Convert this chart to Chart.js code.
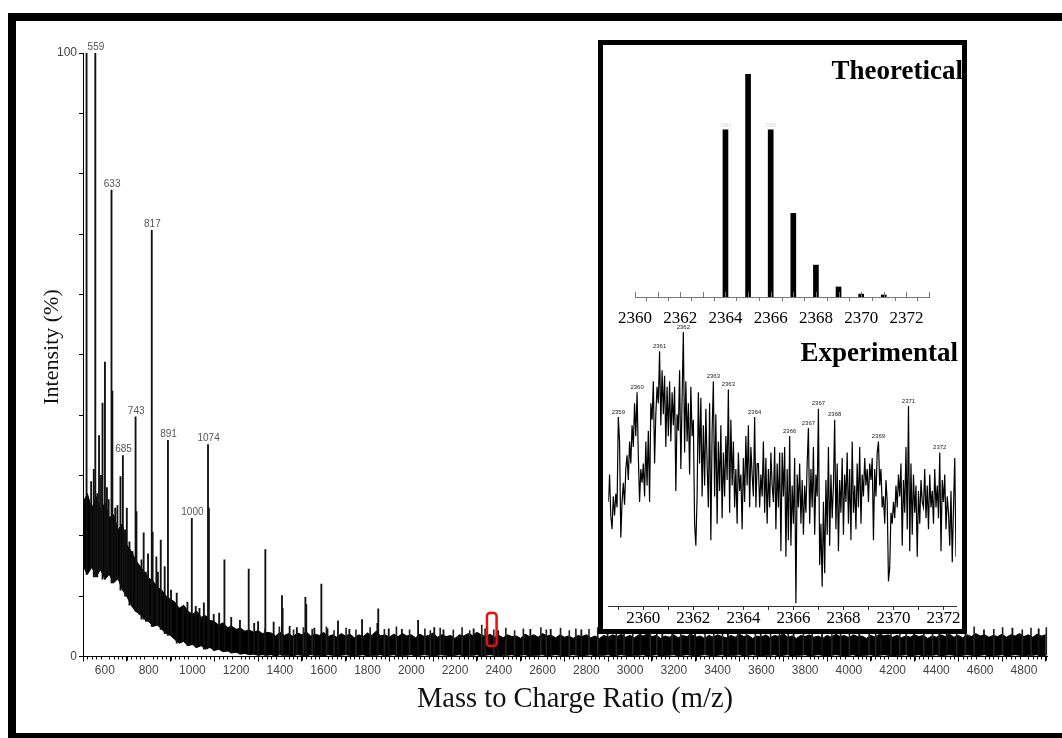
<!DOCTYPE html>
<html>
<head>
<meta charset="utf-8">
<script src="https://cdn.jsdelivr.net/npm/chart.js@4.4.0/dist/chart.umd.min.js"></script>
<style>
  html, body { margin: 0; padding: 0; background: #fff; }
  #page { position: relative; width: 1062px; height: 738px; overflow: hidden; background: #fff; }
  canvas { position: absolute; }
  #frame { position: absolute; left: 8px; top: 13px; width: 1090px; height: 712px; border: 8px solid #000; pointer-events: none; }
  #inset { position: absolute; left: 598px; top: 40px; width: 369px; height: 594px; box-sizing: border-box; border: 5px solid #000; background: #fff; }
</style>
</head>
<body>
<div id="page">
  <canvas id="main" width="1062" height="738" style="left:0;top:0;"></canvas>
  <div id="frame"></div>
  <div id="inset"></div>
  <canvas id="theo" width="359" height="290" style="left:603px;top:45px;"></canvas>
  <canvas id="expt" width="359" height="311" style="left:603px;top:318px;"></canvas>
</div>
<script>
// ---------- full-range spectrum ----------
// noise band envelope, one value per 20 m/z starting at 500 (percent intensity)
const noiseStart = 500;
const noiseStep = 20;
const noiseUpper = [
  25.5, 27.0, 24.5, 26.5, 24.0, 25.5, 23.0, 23.5, 21.0, 22.0,
  18.5, 17.5, 16.0, 15.0, 14.0, 13.0, 12.5, 11.5, 11.0, 10.0,
  9.5, 9.0, 8.0, 8.5, 7.5, 7.0, 7.5, 6.5, 6.8, 6.0,
  5.8, 5.2, 5.6, 4.8, 5.0, 4.5, 4.7, 4.2, 4.4, 4.0,
  4.3, 3.8, 4.0, 3.9, 3.4, 4.0, 3.5, 3.8, 3.3, 3.9,
  3.6, 4.1, 3.4, 3.7, 3.5, 4.0, 3.3, 3.6, 3.2, 3.8,
  3.4, 3.7, 3.1, 3.6, 3.3, 3.9, 3.5, 4.2, 3.4, 3.6,
  3.2, 3.7, 3.3, 3.8, 3.4, 3.6, 3.1, 3.7, 3.3, 3.5,
  3.9, 3.2, 3.6, 3.3, 3.5, 3.0, 3.6, 3.4, 3.8, 3.5,
  4.0, 3.6, 3.3, 3.7, 3.2, 3.5, 3.1, 3.6, 3.3, 3.4,
  3.0, 3.7, 3.3, 3.6, 3.2, 3.8, 3.4, 3.5, 3.1, 3.6,
  3.2, 3.4, 3.0, 3.5, 3.3, 3.6, 3.1, 3.4, 3.0, 3.5,
  3.2, 3.6, 3.3, 3.7, 3.2, 3.5, 3.1, 3.6, 3.4, 3.8,
  3.3, 3.5, 3.0, 3.4, 3.2, 3.6, 3.1, 3.5, 3.3, 3.7,
  3.2, 3.4, 3.0, 3.5, 3.2, 3.6, 3.3, 3.1, 3.5, 3.2,
  3.7, 3.3, 3.5, 3.0, 3.4, 3.2, 3.6, 3.1, 3.5, 3.3,
  3.8, 3.2, 3.4, 3.0, 3.5, 3.3, 3.6, 3.2, 3.4, 3.0,
  3.5, 3.2, 3.7, 3.3, 3.5, 3.1, 3.6, 3.3, 3.4, 3.0,
  3.5, 3.2, 3.7, 3.4, 3.6, 3.2, 3.5, 3.1, 3.4, 3.2,
  3.6, 3.3, 3.5, 3.0, 3.4, 3.2, 3.6, 3.3, 3.7, 3.2,
  3.5, 3.1, 3.6, 3.3, 3.8, 3.4, 3.6, 3.2, 3.5, 3.3,
  3.7, 3.2, 3.6, 3.4, 3.8, 3.3, 3.6, 3.2, 3.7, 3.4,
  3.6
];
const noiseLower = [
  15.0, 13.6, 14.8, 13.2, 14.4, 12.8, 13.6, 12.2, 12.9, 11.0,
  10.0, 8.5, 7.5, 7.0, 6.2, 5.8, 5.0, 5.2, 4.5, 3.8,
  3.5, 2.8, 2.2, 2.5, 1.8, 2.0, 1.5, 1.8, 1.2, 1.5,
  1.0, 1.2, 0.8, 0.9, 0.6, 0.7, 0.4, 0.5, 0.3, 0.4,
  0.2, 0.3, 0.2, 0.3, 0.1, 0.3, 0.2, 0.2, 0.1, 0.3,
  0.2, 0.1, 0.3, 0.2, 0.2, 0.1, 0.3, 0.2, 0.1, 0.2,
  0.3, 0.2, 0.1, 0.2, 0.3, 0.1, 0.2, 0.2, 0.3, 0.1,
  0.2, 0.3, 0.1, 0.2, 0.2, 0.3, 0.1, 0.2, 0.3, 0.2,
  0.1, 0.2, 0.3, 0.2, 0.1, 0.2, 0.3, 0.1, 0.2, 0.2,
  0.3, 0.1, 0.2, 0.3, 0.2, 0.1, 0.2, 0.2, 0.3, 0.1,
  0.2, 0.3, 0.1, 0.2, 0.2, 0.3, 0.1, 0.2, 0.3, 0.2,
  0.1, 0.2, 0.3, 0.2, 0.1, 0.2, 0.3, 0.1, 0.2, 0.2,
  0.3, 0.1, 0.2, 0.3, 0.2, 0.1, 0.2, 0.2, 0.3, 0.1,
  0.2, 0.3, 0.1, 0.2, 0.2, 0.3, 0.1, 0.2, 0.3, 0.2,
  0.1, 0.2, 0.3, 0.2, 0.1, 0.2, 0.3, 0.1, 0.2, 0.2,
  0.3, 0.1, 0.2, 0.3, 0.2, 0.1, 0.2, 0.2, 0.3, 0.1,
  0.2, 0.3, 0.1, 0.2, 0.2, 0.3, 0.1, 0.2, 0.3, 0.2,
  0.1, 0.2, 0.3, 0.2, 0.1, 0.2, 0.3, 0.1, 0.2, 0.2,
  0.3, 0.1, 0.2, 0.3, 0.2, 0.1, 0.2, 0.2, 0.3, 0.1,
  0.2, 0.3, 0.1, 0.2, 0.2, 0.3, 0.1, 0.2, 0.3, 0.2,
  0.1, 0.2, 0.3, 0.2, 0.1, 0.2, 0.3, 0.1, 0.2, 0.2,
  0.3, 0.1, 0.2, 0.3, 0.2, 0.1, 0.2, 0.2, 0.3, 0.1,
  0.2
];
// individual peaks rising above the noise band
const spikeMz = [
  519, 540, 552, 559, 568, 576, 585, 592, 603, 612, 620, 633, 637, 650, 660, 674, 685, 695,
  703, 715, 729, 743, 747, 759, 770, 780, 790, 800, 817, 821, 838, 845, 858, 876, 891, 905,
  931, 960, 980, 1000, 1018, 1035, 1055, 1074, 1078, 1100, 1125, 1149, 1180, 1220, 1260,
  1285, 1303, 1336, 1374, 1412, 1415, 1447, 1480, 1519, 1523, 1560, 1592, 1620, 1668, 1720,
  1778, 1848, 1852, 1900, 1960, 2034, 2108, 2150, 2288, 2400, 2547, 2640, 2780, 2900, 3050,
  3150, 3300, 3450, 3600, 3750, 3880, 4050, 4150, 4300, 4450, 4620, 4750, 4870
];
const spikeInt = [
  100, 29, 31, 100, 27, 36.6, 30, 42, 48.8, 28, 26, 77.3, 44, 24.6, 25, 29.8, 33.3, 21,
  24.6, 19, 17.4, 39.7, 24, 15, 16, 20.5, 14, 17, 70.6, 20.6, 16.5, 14, 19.3, 14.9, 35.8, 11,
  10.5, 8.3, 9, 22.9, 8.3, 8, 8.9, 35.1, 24.6, 7, 7.2, 16, 6.5, 6, 14.5,
  5.5, 5.8, 17.7, 5.7, 10.1, 8, 5, 4.8, 9.8, 8.6, 4.7, 12, 4.6, 5.9, 4.5,
  6.1, 5.5, 7.9, 4.6, 4.5, 6, 4.8, 4.4, 4.6, 4.3, 4.5, 4.5, 4.4, 4.6, 4.4,
  4.7, 4.5, 4.6, 4.4, 4.5, 4.6, 4.4, 4.5, 4.6, 4.5, 4.4, 4.7, 4.6
];
// short noise spikes poking out of the top of the band
const grassMz = [
  1330, 1395, 1460, 1505, 1545, 1610, 1645, 1700, 1745, 1810, 1875, 1930, 1990, 2060, 2085,
  2130, 2190, 2230, 2265, 2320, 2335, 2375, 2430, 2470, 2510, 2590, 2615, 2680, 2720, 2750,
  2810, 2850, 2935, 2970, 3010, 3090, 3120, 3190, 3230, 3270, 3340, 3380, 3420, 3490, 3530,
  3570, 3640, 3680, 3720, 3790, 3830, 3920, 3960, 4000, 4090, 4120, 4190, 4230, 4260, 4340,
  4380, 4410, 4490, 4530, 4570, 4660, 4700, 4790, 4830, 4900
];
const grassInt = [
  4.6, 4.9, 4.4, 4.8, 4.5, 4.9, 4.3, 4.7, 4.4, 4.8, 4.5, 4.9, 4.4, 4.6, 4.3,
  4.7, 4.4, 4.8, 4.3, 5.2, 4.6, 4.4, 4.7, 4.3, 4.6, 4.8, 4.4, 4.7, 4.3, 4.6,
  4.5, 4.8, 4.4, 4.7, 4.3, 4.6, 4.4, 4.8, 4.3, 4.6, 4.4, 4.9, 4.5, 4.7, 4.3,
  4.8, 4.4, 4.6, 4.9, 4.4, 4.7, 4.5, 4.8, 4.4, 4.6, 4.3, 4.9, 4.5, 4.7, 4.4,
  4.8, 4.3, 4.7, 4.4, 4.9, 4.5, 4.8, 4.4, 4.7, 4.8
];
const labelledPeaks = [559, 633, 685, 743, 817, 891, 1000, 1074];
const xTickLabels = [600, 800, 1000, 1200, 1400, 1600, 1800, 2000, 2200, 2400, 2600, 2800,
  3000, 3200, 3400, 3600, 3800, 4000, 4200, 4400, 4600, 4800];
const yTickValues = [0, 10, 20, 30, 40, 50, 60, 70, 80, 90, 100];
const yTickLabels = [0, 100];
// region enlarged in the inset (m/z and % bounds of the marker box)
const zoomBoxMz = [2346, 2390];
const zoomBoxInt = [1.75, 7.2];

// ---------- isotope pattern, theoretical ----------
const theoMz = [2364, 2365, 2366, 2367, 2368, 2369, 2370, 2371];
const theoInt = [75, 100, 75, 37.5, 14.3, 4.5, 1.3, 0.9];
const theoTicks = [2360, 2361, 2362, 2363, 2364, 2365, 2366, 2367, 2368, 2369, 2370, 2371, 2372, 2373];

// ---------- isotope pattern, experimental (one point per 0.05 m/z from 2358.6) ----------
const expStart = 2358.6;
const expStep = 0.05;
const expIntensity = [
  38, 48, 33, 28, 40, 33, 41, 36, 69, 60, 25, 38, 45, 37, 50, 55, 46, 60, 52, 66,
  58, 74, 62, 78, 55, 38, 50, 45, 52, 40, 60, 44, 64, 38, 74, 68, 82, 52, 70, 80,
  74, 93, 66, 86, 70, 84, 58, 80, 62, 82, 60, 78, 66, 80, 42, 70, 64, 86, 50, 76,
  100, 56, 82, 60, 74, 48, 80, 62, 68, 30, 22, 40, 78, 52, 76, 40, 66, 44, 72, 52,
  36, 74, 24, 64, 82, 40, 70, 30, 60, 42, 66, 32, 56, 40, 62, 46, 79, 34, 68, 44,
  60, 36, 50, 30, 56, 42, 48, 28, 54, 38, 62, 44, 66, 36, 58, 48, 40, 69, 36, 52,
  52, 36, 48, 40, 60, 34, 54, 30, 50, 36, 56, 44, 38, 58, 28, 52, 36, 56, 20, 56,
  40, 58, 18, 50, 24, 62, 22, 44, 30, 54, 1, 48, 36, 52, 30, 46, 26, 44, 34, 52,
  65, 30, 50, 36, 58, 26, 48, 40, 72, 15, 30, 7, 38, 12, 46, 26, 58, 22, 48, 32,
  44, 68, 28, 52, 20, 46, 34, 54, 26, 48, 38, 56, 30, 50, 24, 60, 34, 44, 28, 52,
  36, 58, 30, 48, 40, 54, 44, 50, 38, 52, 46, 54, 24, 50, 40, 56, 60, 44, 50, 36,
  40, 30, 46, 38, 9, 14, 34, 30, 38, 32, 44, 36, 48, 40, 52, 22, 46, 34, 58, 28,
  73, 20, 52, 26, 48, 34, 44, 18, 42, 30, 46, 38, 36, 50, 32, 44, 28, 48, 36, 42,
  30, 50, 36, 44, 32, 56, 20, 46, 38, 48, 28, 40, 34, 22, 42, 16, 36, 54, 18, 40
];
const expPeakIdx = [8, 23, 41, 60, 84, 96, 117, 145, 160, 168, 181, 216, 240, 265];
const expTicks = [2359, 2360, 2361, 2362, 2363, 2364, 2365, 2366, 2367, 2368, 2369, 2370, 2371, 2372];

const SANS = '"Liberation Sans", Arial, sans-serif';
const SERIF = '"Liberation Serif", "Times New Roman", serif';
Chart.defaults.font.family = SANS;
Chart.defaults.animation = false;

// ---------- main spectrum ----------
const noisePts = arr => arr.map((v, i) => ({ x: noiseStart + i * noiseStep, y: v }));
// a peak stands on the baseline of the band at its own m/z sample
const bandFloor = m => noiseLower[Math.min(noiseLower.length - 1, Math.max(0, Math.round((m - noiseStart) / noiseStep)))];
const peakBars = (mz, vals) => mz.map((m, i) => ({ x: m, y: [bandFloor(m), vals[i]] }));

const mainDecor = {
  id: 'mainDecor',
  afterDatasetsDraw(chart) {
    const { ctx, scales: { x, y }, chartArea } = chart;
    ctx.save();
    // minor ticks on the m/z axis
    ctx.strokeStyle = '#000';
    ctx.lineWidth = 1;
    ctx.beginPath();
    for (let m = 520; m <= 4900; m += 20) {
      if (m % 200 === 0) continue;
      const px = Math.round(x.getPixelForValue(m)) + 0.5;
      const len = m % 100 === 0 ? 4 : 3;
      ctx.moveTo(px, chartArea.bottom);
      ctx.lineTo(px, chartArea.bottom + len);
    }
    ctx.stroke();

    // peak labels
    ctx.fillStyle = '#555';
    ctx.font = '10px ' + SANS;
    ctx.textAlign = 'center';
    ctx.textBaseline = 'bottom';
    labelledPeaks.forEach(m => {
      const i = spikeMz.indexOf(m);
      ctx.fillText(String(m), x.getPixelForValue(m), y.getPixelForValue(spikeInt[i]) - 1);
    });

    // marker around the enlarged region
    const bx0 = x.getPixelForValue(zoomBoxMz[0]);
    const bx1 = x.getPixelForValue(zoomBoxMz[1]);
    const by0 = y.getPixelForValue(zoomBoxInt[1]);
    const by1 = y.getPixelForValue(zoomBoxInt[0]);
    ctx.strokeStyle = '#e3120b';
    ctx.lineWidth = 2.5;
    ctx.beginPath();
    ctx.roundRect(bx0, by0, bx1 - bx0, by1 - by0, 3);
    ctx.stroke();
    ctx.restore();
  },
  afterDraw(chart) {
    const { ctx } = chart;
    ctx.save();
    ctx.fillStyle = '#111';
    ctx.font = '28.5px ' + SERIF;
    ctx.textAlign = 'center';
    ctx.textBaseline = 'alphabetic';
    ctx.fillText('Mass to Charge Ratio (m/z)', 575, 707);
    ctx.translate(52, 347);
    ctx.rotate(-Math.PI / 2);
    ctx.textBaseline = 'middle';
    ctx.font = '22px ' + SERIF;
    ctx.fillText('Intensity (%)', 0, 0);
    ctx.restore();
  }
};

new Chart(document.getElementById('main'), {
  type: 'bar',
  data: {
    datasets: [
      {
        type: 'line', data: noisePts(noiseUpper), borderColor: '#000', borderWidth: 1,
        pointRadius: 0, tension: 0, fill: false, order: 3
      },
      {
        type: 'line', data: noisePts(noiseLower), borderColor: '#000', borderWidth: 1,
        pointRadius: 0, tension: 0, fill: '-1', backgroundColor: '#000', order: 3
      },
      {
        type: 'bar', data: peakBars(grassMz, grassInt),
        backgroundColor: '#222', borderWidth: 0, barThickness: 1, order: 2
      },
      {
        type: 'bar', data: peakBars(spikeMz, spikeInt),
        backgroundColor: '#111', borderWidth: 0, barThickness: 1.2, order: 1
      }
    ]
  },
  options: {
    responsive: false,
    devicePixelRatio: 1,
    layout: { padding: { left: 0, top: 53, right: 14.4, bottom: 51.5 } },
    plugins: { legend: { display: false }, tooltip: { enabled: false } },
    scales: {
      x: {
        type: 'linear', min: 500, max: 4908, offset: false,
        afterBuildTicks: s => { s.ticks = xTickLabels.map(v => ({ value: v })); },
        afterFit: s => { s.height = 30; },
        grid: { drawOnChartArea: false, tickLength: 5, color: '#000', tickWidth: 1 },
        border: { color: '#000', width: 1 },
        ticks: {
          autoSkip: false, maxRotation: 0, padding: 2, color: '#444', font: { size: 12 },
          callback: v => String(v)
        }
      },
      y: {
        type: 'linear', min: 0, max: 100,
        afterBuildTicks: s => { s.ticks = yTickValues.map(v => ({ value: v })); },
        afterFit: s => { s.width = 83; },
        grid: { drawOnChartArea: false, tickLength: 4, color: '#000' },
        border: { color: '#000', width: 1 },
        ticks: {
          padding: 2, color: '#444', font: { size: 12 },
          callback: v => (yTickLabels.includes(v) ? String(v) : '')
        }
      }
    }
  },
  plugins: [mainDecor]
});

// ---------- theoretical isotope pattern ----------
const theoDecor = {
  id: 'theoDecor',
  afterDraw(chart) {
    const { ctx, scales: { x, y }, chartArea } = chart;
    ctx.save();
    ctx.strokeStyle = '#777';
    ctx.lineWidth = 1;
    ctx.beginPath();
    theoTicks.forEach(v => {
      const px = Math.round(x.getPixelForValue(v)) + 0.5;
      ctx.moveTo(px, chartArea.bottom - 5);
      ctx.lineTo(px, chartArea.bottom);
    });
    ctx.stroke();
    // faint m/z marks above the two shoulder peaks
    ctx.fillStyle = '#d4d4d4';
    ctx.font = '5px ' + SANS;
    ctx.textAlign = 'center';
    ctx.textBaseline = 'bottom';
    [0, 2].forEach(i => {
      ctx.fillText(String(theoMz[i]), x.getPixelForValue(theoMz[i]), y.getPixelForValue(theoInt[i]) - 2);
    });
    ctx.fillStyle = '#000';
    ctx.font = 'bold 27px ' + SERIF;
    ctx.textAlign = 'right';
    ctx.textBaseline = 'alphabetic';
    ctx.fillText('Theoretical', 360, 34);
    ctx.restore();
  }
};

new Chart(document.getElementById('theo'), {
  type: 'bar',
  data: {
    datasets: [{
      data: theoMz.map((m, i) => ({ x: m, y: theoInt[i] })),
      backgroundColor: '#000', borderWidth: 0, barThickness: 5
    }]
  },
  options: {
    responsive: false,
    devicePixelRatio: 1,
    layout: { padding: { left: 32, top: 29, right: 33, bottom: 0 } },
    plugins: { legend: { display: false }, tooltip: { enabled: false } },
    scales: {
      x: {
        type: 'linear', min: 2360, max: 2373, offset: false,
        afterBuildTicks: s => { s.ticks = theoTicks.map(v => ({ value: v })); },
        afterFit: s => { s.height = 38; },
        grid: { drawOnChartArea: false, tickLength: 4, color: '#777' },
        border: { color: '#777', width: 1 },
        ticks: {
          autoSkip: false, maxRotation: 0, padding: 7, color: '#000',
          font: { family: SERIF, size: 17 },
          callback: v => (v % 2 === 0 && v <= 2372 ? String(v) : '')
        }
      },
      y: { display: false, min: 0, max: 100 }
    }
  },
  plugins: [theoDecor]
});

// ---------- experimental isotope pattern ----------
const expPts = expIntensity.map((v, i) => ({ x: expStart + i * expStep, y: v }));

const exptDecor = {
  id: 'exptDecor',
  afterDraw(chart) {
    const { ctx, scales: { x, y } } = chart;
    ctx.save();
    ctx.fillStyle = '#222';
    ctx.font = '6px ' + SANS;
    ctx.textAlign = 'center';
    ctx.textBaseline = 'bottom';
    expPeakIdx.forEach(i => {
      const p = expPts[i];
      ctx.fillText(String(Math.round(p.x)), x.getPixelForValue(p.x), y.getPixelForValue(p.y) - 2);
    });
    ctx.fillStyle = '#000';
    ctx.font = 'bold 27px ' + SERIF;
    ctx.textAlign = 'right';
    ctx.textBaseline = 'alphabetic';
    ctx.fillText('Experimental', 355, 43);
    ctx.restore();
  }
};

new Chart(document.getElementById('expt'), {
  type: 'line',
  data: {
    datasets: [{
      data: expPts, borderColor: '#000', borderWidth: 1.2, pointRadius: 0, tension: 0, fill: false
    }]
  },
  options: {
    responsive: false,
    devicePixelRatio: 1,
    layout: { padding: { left: 5.3, top: 14, right: 6, bottom: 0 } },
    plugins: { legend: { display: false }, tooltip: { enabled: false } },
    scales: {
      x: {
        type: 'linear', min: 2358.6, max: 2372.5, offset: false,
        afterBuildTicks: s => { s.ticks = expTicks.map(v => ({ value: v })); },
        afterFit: s => { s.height = 23; },
        grid: { drawOnChartArea: false, tickLength: 4, color: '#333' },
        border: { color: '#333', width: 1 },
        ticks: {
          autoSkip: false, maxRotation: 0, padding: 0, color: '#000',
          font: { family: SERIF, size: 17, lineHeight: 1 },
          callback: v => (v % 2 === 0 ? String(v) : '')
        }
      },
      y: { display: false, min: 0, max: 100 }
    }
  },
  plugins: [exptDecor]
});
</script>
</body>
</html>
